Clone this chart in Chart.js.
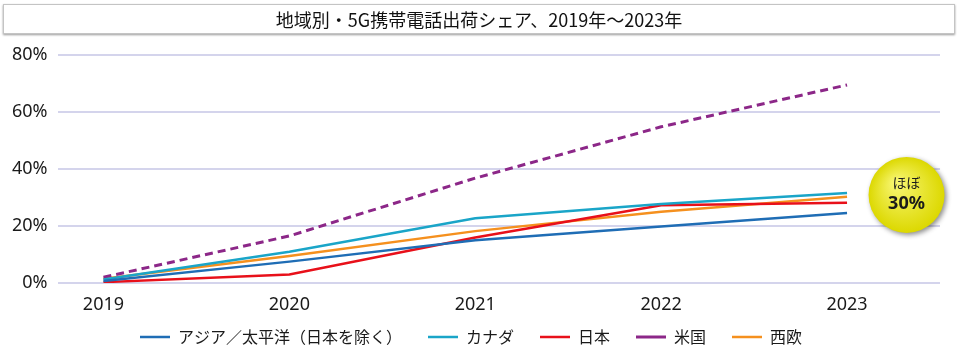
<!DOCTYPE html>
<html>
<head>
<meta charset="utf-8">
<script src="https://cdn.jsdelivr.net/npm/chart.js@4"></script>
<style>
  html, body { margin: 0; padding: 0; background: #fff; }
  #wrap { position: relative; width: 960px; height: 352px; }
  #title {
    position: absolute; left: 3px; top: 4px; width: 950px; height: 28px;
    border: 1px solid #c4c4c4; box-shadow: 0 1px 2px #9a9a9a;
    font-family: "Noto Sans CJK JP", sans-serif; font-size: 18px; color: #111;
    text-align: center; line-height: 28px; background: #fff;
  }
  canvas { position: absolute; left: 0; top: 0; }
</style>
</head>
<body>
<div id="wrap">
  <canvas id="chart" width="960" height="352"></canvas>
  <div id="title">地域別・5G携帯電話出荷シェア、2019年～2023年</div>
</div>
<script>
// 年
var years = [2019, 2020, 2021, 2022, 2023]
// 出荷シェア (%)
var asiaPacific = [0.7, 7.5, 15, 19.8, 24.6]
var canada = [1.2, 11, 22.7, 27.7, 31.6]
var japan = [0.3, 3, 16, 27.3, 28.2]
var usa = [2, 16.5, 36.8, 54.8, 69.5]
var westEurope = [1.5, 9.5, 18.2, 25, 30.3]
var yTicks = [0, 20, 40, 60, 80]
var badgeText = ['ほぼ', '30%']

var toPoints = (vals) => vals.map((v, i) => { return { x: years[i], y: v } })

var badgePlugin = {
    id: 'badge',
    afterDraw: (chart) => {
        var ctx = chart.ctx
        var x = chart.scales.x.getPixelForValue(2023.32)
        var y = chart.scales.y.getPixelForValue(30.9)
        var r = 38
        ctx.save()
        ctx.shadowColor = 'rgba(0,0,0,0.45)'
        ctx.shadowBlur = 5
        ctx.shadowOffsetX = 2
        ctx.shadowOffsetY = 2
        var g = ctx.createRadialGradient(x - 10, y - 12, 4, x, y, r)
        g.addColorStop(0, '#f6f46a')
        g.addColorStop(1, '#dcd800')
        ctx.fillStyle = g
        ctx.beginPath()
        ctx.arc(x, y, r, 0, Math.PI * 2)
        ctx.fill()
        ctx.restore()
        ctx.save()
        ctx.fillStyle = '#1a1a1a'
        ctx.textAlign = 'center'
        ctx.textBaseline = 'middle'
        ctx.font = '14px "Noto Sans CJK JP"'
        ctx.fillText(badgeText[0], x, y - 12)
        ctx.font = 'bold 18px "Noto Sans"'
        ctx.fillText(badgeText[1], x, y + 9)
        ctx.restore()
    }
}

// legend: keep wide item gaps but sit it close under the axis labels
var legendFit = {
    id: 'legendFit',
    beforeInit: (chart) => {
        var fit = chart.legend.fit
        chart.legend.fit = function () {
            fit.call(this)
            this.height = 38
        }
    },
    afterLayout: (chart) => {
        chart.legend.top -= 11
        chart.legend.height += 11
    }
}

var ds = (label, vals, color, dash) => {
    return {
        label: label,
        data: toPoints(vals),
        borderColor: color,
        backgroundColor: color,
        borderWidth: dash ? 3 : 2.5,
        borderDash: dash || [],
        pointRadius: 0,
        tension: 0
    }
}

new Chart(document.getElementById('chart').getContext('2d'), {
    type: 'line',
    data: {
        datasets: [
            ds('アジア／太平洋（日本を除く）', asiaPacific, '#1f6db5'),
            ds('カナダ', canada, '#1aa5c8'),
            ds('日本', japan, '#e8101a'),
            ds('米国', usa, '#8c2788', [8, 5]),
            ds('西欧', westEurope, '#f5901e')
        ]
    },
    options: {
        responsive: false,
        animation: false,
        layout: { padding: { top: 55, right: 20, left: 2, bottom: 0 } },
        scales: {
            x: {
                type: 'linear',
                min: 2018.753,
                max: 2023.5,
                grid: { display: false },
                border: { display: false },
                afterFit: (axis) => { axis.height = 31 },
                ticks: {
                    stepSize: 1,
                    includeBounds: false,
                    padding: 3,
                    color: '#1a1a1a',
                    font: { family: 'Noto Sans', size: 18 },
                    callback: (v) => String(v)
                }
            },
            y: {
                min: 0,
                max: 80,
                afterBuildTicks: (axis) => { axis.ticks = yTicks.map(v => ({ value: v })) },
                grid: { color: '#d4d4ec', lineWidth: 2, drawTicks: false },
                border: { display: false },
                ticks: {
                    padding: 10,
                    color: '#1a1a1a',
                    font: { family: 'Noto Sans', size: 18 },
                    callback: (v) => v + '%'
                }
            }
        },
        plugins: {
            legend: {
                position: 'bottom',
                labels: {
                    usePointStyle: true,
                    pointStyle: 'line',
                    pointStyleWidth: 30,
                    padding: 26,
                    color: '#1a1a1a',
                    font: { family: 'Noto Sans CJK JP', size: 16 }
                }
            },
            tooltip: { enabled: false }
        }
    },
    plugins: [badgePlugin, legendFit]
})
</script>
</body>
</html>
